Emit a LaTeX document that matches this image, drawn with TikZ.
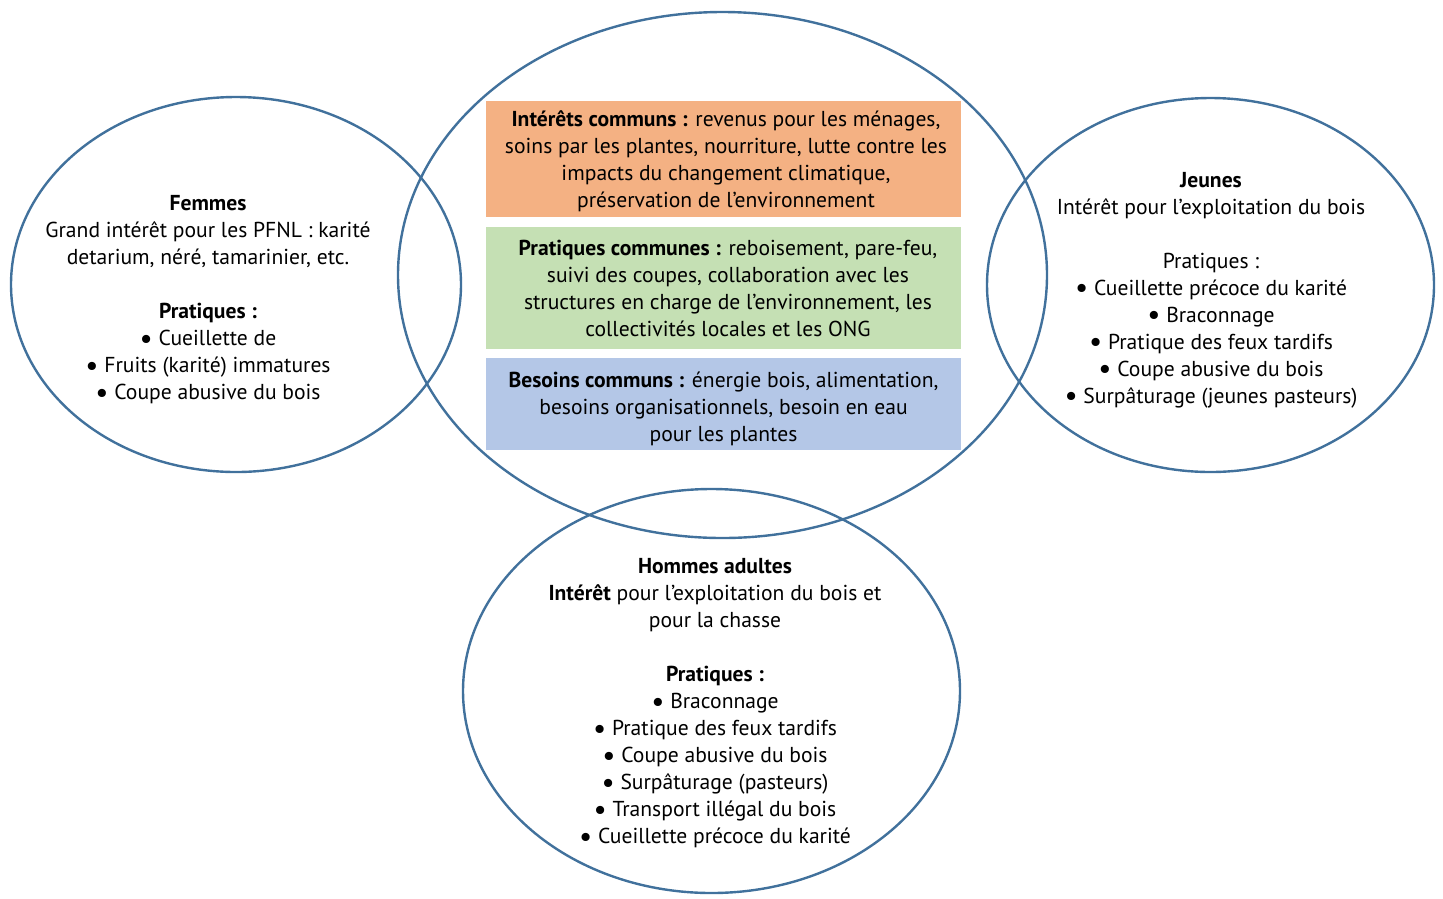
\documentclass[tikz,border=0pt]{standalone}
\usepackage{fontspec}
\setmainfont{PT Sans}
\usepackage{tikz}
\usetikzlibrary{positioning}
\definecolor{ringblue}{RGB}{65,113,156}
\definecolor{interets}{RGB}{244,177,131}
\definecolor{pratiques}{RGB}{197,224,180}
\definecolor{besoins}{RGB}{180,199,231}
\tikzset{
    venn/.style={draw=ringblue, line width=2.4pt},
    commonbox/.style={minimum width=475pt, inner sep=0pt, align=center, font=\fontsize{21.6}{27}\selectfont},
    group/.style={align=center, font=\fontsize{21.6}{27}\selectfont}
}
\newcommand{\itembullet}{\raisebox{-0.12em}{\scalebox{1.35}{\textbullet}}\ }

\begin{document}
\begin{tikzpicture}[x=1pt, y=-1pt]
    \useasboundingbox (0,0) rectangle (1443,898);

    % common boxes
    \node[commonbox, fill=interets, minimum height=116pt] (interets) at (723.5,159) {};
    \node[commonbox] (interetstxt) at (726,161) {\textbf{Intérêts communs :} revenus pour les ménages,\\soins par les plantes, nourriture, lutte contre les\\impacts du changement climatique,\\préservation de l’environnement};
    \node[commonbox, fill=pratiques, minimum height=122pt] (pratiques) at (723.5,288) {};
    \node[commonbox] (pratiquestxt) at (728,288) {\textbf{Pratiques communes :} reboisement, pare-feu,\\suivi des coupes, collaboration avec les\\structures en charge de l’environnement, les\\collectivités locales et les ONG};
    \node[commonbox, fill=besoins, minimum height=92pt] (besoins) at (723.5,404) {};
    \node[commonbox] (besoinstxt) at (723.5,409) {\textbf{Besoins communs :} énergie bois, alimentation,\\besoins organisationnels, besoin en eau\\pour les plantes};

    % the four groups
    \draw[venn] (722.5,275) ellipse [x radius=324.5pt, y radius=263pt];
    \draw[venn] (236,284.5) ellipse [x radius=225pt, y radius=187.5pt];
    \draw[venn] (1210.5,285) ellipse [x radius=223.5pt, y radius=187pt];
    \draw[venn] (711.5,691) ellipse [x radius=248.5pt, y radius=202pt];

    \node[group] (femmes) at (208,300) {\textbf{Femmes}\\Grand intérêt pour les PFNL : karité\\detarium, néré, tamarinier, etc.\\[27pt]\textbf{Pratiques :}\\\itembullet Cueillette de\\\itembullet Fruits (karité) immatures\\\itembullet Coupe abusive du bois};
    \node[group] (jeunes) at (1211,290) {\textbf{Jeunes}\\Intérêt pour l’exploitation du bois\\[27pt]Pratiques :\\\itembullet Cueillette précoce du karité\\\itembullet Braconnage\\\itembullet Pratique des feux tardifs\\\itembullet Coupe abusive du bois\\\itembullet Surpâturage (jeunes pasteurs)};
    \node[group] (hommes) at (715,703.5) {\textbf{Hommes adultes}\\\textbf{Intérêt} pour l’exploitation du bois et\\pour la chasse\\[27pt]\textbf{Pratiques :}\\\itembullet Braconnage\\\itembullet Pratique des feux tardifs\\\itembullet Coupe abusive du bois\\\itembullet Surpâturage (pasteurs)\\\itembullet Transport illégal du bois\\\itembullet Cueillette précoce du karité};
\end{tikzpicture}
\end{document}
